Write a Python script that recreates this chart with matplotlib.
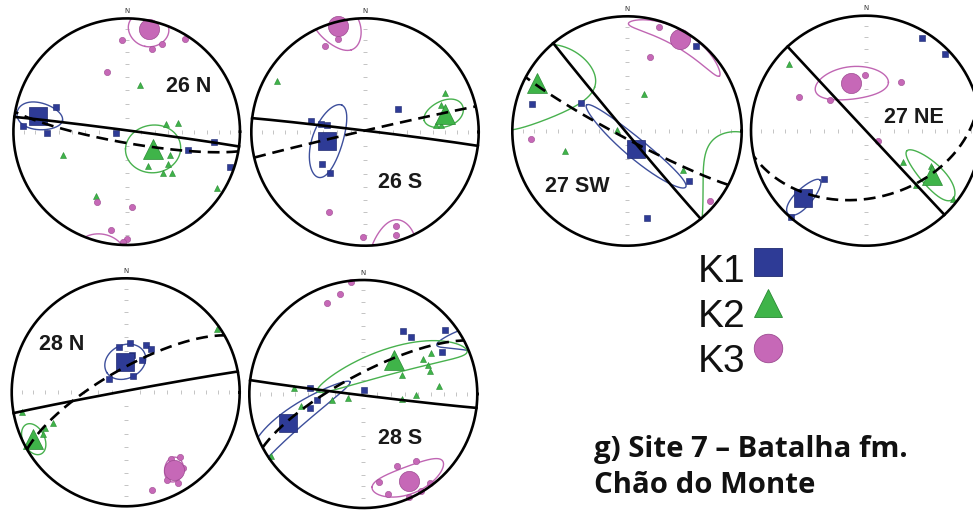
import numpy as np
import matplotlib
matplotlib.use("Agg")
import matplotlib.pyplot as plt

# AMS principal axes per site, (trend, plunge) in degrees, lower hemisphere
sites = ["26 N", "26 S", "27 SW", "27 NE", "28 N", "28 S"]

k1_26n = [(289, 34), (273, 9), (269, 30), (265, 82), (107, 43), (97, 23), (109, 4)]
k2_26n = [(16, 55), (79, 61), (80, 52), (118, 54), (148, 61), (128, 52), (139, 50),
          (132, 45), (250, 40), (205, 37), (122, 7)]
k3_26n = [(357, 20), (17, 25), (22, 18), (32, 4), (342, 44), (203, 33), (176, 34),
          (189, 13), (180, 6), (182, 3)]
means_26n = [(280, 22), (123, 67), (12, 8)]
ell_26n = [(20, 8, 0), (20, 17, 33), (16, 11, 0)]
planes_26n = [(277.5, 89), (100, 82)]

k1_26s = [(282, 50), (281, 58), (280, 62), (234, 51), (221, 51), (55, 61)]
k2_26s = [(64, 23), (70, 30), (84, 37), (85, 33), (300, 12)]
k3_26s = [(335, 18), (344, 16), (204, 24), (181, 8), (162, 14), (163, 6)]
means_26s = [(257, 62), (77, 29), (346, 4)]
ell_26s = [(27, 11, 57), (17, 8, 5), (24, 11, 10)]
planes_26s = [(277, 89), (257, 89)]

k1_27sw = [(286, 15), (301, 51), (39, 5), (129, 31), (167, 23)]
k2_27sw = [(25, 61), (276, 83), (252, 43), (125, 40)]
k3_27sw = [(17, 6), (17, 33), (265, 17), (130, 6)]
means_27sw = [(153, 76), (298, 12), (30, 8)]
ell_27sw = [(47, 7, 23), (44, 24, 23), (29, 8, 90)]
planes_27sw = [(140, 89), (118, 85)]

k1_27ne = [(31, 7), (46, 5), (221, 44), (221, 1)]
k2_27ne = [(311, 12), (130, 55), (137, 36), (128, 4), (119, 36), (125, 26)]
k3_27ne = [(359, 50), (36, 47), (297, 35), (310, 56), (129, 79)]
means_27ne = [(223, 21), (124, 31), (343, 54)]
ell_27ne = [(20, 5, 0), (27, 7, -9), (25, 12, 78)]
planes_27ne = [(137, 89.9), (77, 41)]

k1_28n = [(351, 57), (5, 54), (23, 53), (30, 54), (26, 64), (25, 77), (308, 75), (9, 63)]
k2_28n = [(259, 8), (246, 24), (247, 31), (243, 20), (55, 3)]
k3_28n = [(165, 12), (146, 30), (140, 27), (143, 18), (155, 16), (150, 9)]
means_28n = [(359, 68), (243, 10), (148, 21)]
ell_28n = [(15, 12, -61), (10, 9, 0), (10, 6, -16)]
planes_28n = [(259.5, 89), (240, 74)]

k1_28s = [(32, 35), (40, 35), (52, 10), (62, 23), (276, 51), (263, 56), (255, 50), (8, 87)]
k2_28s = [(275, 39), (259, 44), (260, 67), (254, 79), (236, 3), (64, 59), (98, 62),
          (91, 52), (84, 34), (60, 39), (66, 38), (71, 38), (59, 31)]
k3_28s = [(155, 31), (142, 26), (170, 23), (143, 3), (149, 1), (156, 1), (166, 11),
          (338, 15), (347, 11), (354, 1)]
means_28s = [(249, 30), (42, 57), (152, 15)]
ell_28s = [(55, 7, 14), (59, 9, -30), (22, 12, 76)]
planes_28s = [(97, 89), (242, 76)]

nets = [
    (k1_26n, k2_26n, k3_26n, means_26n, ell_26n, planes_26n),
    (k1_26s, k2_26s, k3_26s, means_26s, ell_26s, planes_26s),
    (k1_27sw, k2_27sw, k3_27sw, means_27sw, ell_27sw, planes_27sw),
    (k1_27ne, k2_27ne, k3_27ne, means_27ne, ell_27ne, planes_27ne),
    (k1_28n, k2_28n, k3_28n, means_28n, ell_28n, planes_28n),
    (k1_28s, k2_28s, k3_28s, means_28s, ell_28s, planes_28s),
]

# net placement on the page (pixels) and label spots (net units)
W, H = 973, 511
centers = [(126.7, 131.7), (365, 132), (627, 131), (866, 130.7), (125.7, 392.3), (363.3, 394)]
radii = [113.3, 113.7, 114.7, 115, 114, 114]
label_xy = [(0.55, 0.40), (0.31, -0.44), (-0.43, -0.485), (0.42, 0.116), (-0.56, 0.415), (0.32, -0.39)]

styles = [
    dict(marker="s", color="#2e3b96", mec="#1f2a70", ell="#3d4f9c", small=4.2, big=13.5),
    dict(marker="^", color="#3fb449", mec="#2a8a34", ell="#48b14e", small=4.8, big=14.5),
    dict(marker="o", color="#c668b7", mec="#9c4a90", ell="#c066b3", small=4.5, big=14.5),
]


def unit(trend, plunge):
    t, p = np.radians(trend), np.radians(plunge)
    return np.array([np.cos(p) * np.cos(t), np.cos(p) * np.sin(t), np.sin(p)])


def to_xy(v):
    # Schmidt (equal-area) lower hemisphere, axial data
    n, e, d = v
    s = np.where(d < 0, -1.0, 1.0)
    n, e, d = n * s, e * s, d * s
    k = 1 / np.sqrt(1 + d)
    return e * k, n * k


def great_circle(strike, dip):
    t = np.linspace(0, np.pi, 241)
    a, b = unit(strike, 0), unit(strike + 90, dip)
    return to_xy(np.outer(a, np.cos(t)) + np.outer(b, np.sin(t)))


def cone(trend, plunge, major, minor, phi):
    T, P, f = np.radians(trend), np.radians(plunge), np.radians(phi)
    m = unit(trend, plunge)
    down = np.array([-np.sin(P) * np.cos(T), -np.sin(P) * np.sin(T), np.cos(P)])
    side = np.array([-np.sin(T), np.cos(T), 0.0])
    w = np.cos(f) * down + np.sin(f) * side
    q = -np.sin(f) * down + np.cos(f) * side
    t = np.linspace(0, 2 * np.pi, 721)
    v = (m[:, None] + np.tan(np.radians(major)) * np.cos(t) * w[:, None]
         + np.tan(np.radians(minor)) * np.sin(t) * q[:, None])
    v = v / np.linalg.norm(v, axis=0)
    x, y = to_xy(v)
    up = v[2] < 0
    cut = np.where(up[1:] != up[:-1])[0] + 1
    return np.insert(x, cut, np.nan), np.insert(y, cut, np.nan)


tick_r = np.sqrt(2) * np.sin(np.radians((90 - np.arange(80, 0, -10)) / 2))

fig = plt.figure(figsize=(W / 100, H / 100), dpi=100)
fig.patch.set_facecolor("white")

for (k1, k2, k3, means, ells, planes), name, (cx, cy), R, (lx, ly) in zip(
        nets, sites, centers, radii, label_xy):
    pad = 1.15
    ax = fig.add_axes([(cx - pad * R) / W, 1 - (cy + pad * R) / H, 2 * pad * R / W, 2 * pad * R / H])
    ax.set_xlim(-pad, pad)
    ax.set_ylim(-pad, pad)
    ax.set_aspect("equal")
    ax.axis("off")

    a = np.linspace(0, 2 * np.pi, 400)
    ax.plot(np.cos(a), np.sin(a), color="black", lw=1.9, zorder=6)
    tr = np.concatenate([tick_r, -tick_r])
    ax.plot(np.zeros_like(tr), tr, ls="none", marker="_", ms=3, mew=0.7, color="#c4c4c4", zorder=1)
    ax.plot(tr, np.zeros_like(tr), ls="none", marker="|", ms=3, mew=0.7, color="#c4c4c4", zorder=1)
    ax.text(0, 1.065, "N", ha="center", va="center", fontsize=5, color="#333333")

    for (strike, dip), ls in zip(planes, ["-", "--"]):
        x, y = great_circle(strike, dip)
        line, = ax.plot(x, y, color="black", lw=1.9, ls=ls, zorder=5)
        if ls == "--":
            line.set_dashes((4.5, 2.6))

    for pts, (mt, mp), (ma, mi, phi), st in zip([k1, k2, k3], means, ells, styles):
        x, y = cone(mt, mp, ma, mi, phi)
        ax.plot(x, y, color=st["ell"], lw=1.0, zorder=2)
        px, py = to_xy(np.array([unit(t, p) for t, p in pts]).T)
        ax.plot(px, py, ls="none", marker=st["marker"], ms=st["small"], color=st["color"],
                mec=st["mec"], mew=0.4, zorder=3)
        bx, by = to_xy(unit(mt, mp))
        ax.plot([bx], [by], ls="none", marker=st["marker"], ms=st["big"], color=st["color"],
                mec=st["mec"], mew=0.5, zorder=4)

    ax.text(lx, ly, name, ha="center", va="center", fontsize=15.5, fontweight="bold",
            family="Liberation Sans", color="#1a1a1a", zorder=7)

# legend and caption
lax = fig.add_axes([0, 0, 1, 1])
lax.set_xlim(0, W)
lax.set_ylim(H, 0)
lax.axis("off")
lax.patch.set_alpha(0)

for i, (lab, st) in enumerate(zip(["K1", "K2", "K3"], styles)):
    base = 281.7 + 45 * i
    lax.text(698, base, lab, ha="left", va="baseline", fontsize=28, family="Liberation Sans",
             color="#111111")
    lax.plot([768], [262.5 + 40.5 * i + (5 if i == 2 else 0)], ls="none", marker=st["marker"],
             ms=20.5, color=st["color"], mec=st["mec"], mew=0.6)

lax.text(594, 456.5, "g) Site 7 \u2013 Batalha fm.", ha="left", va="baseline", fontsize=21.2,
         fontweight="bold", family="Open Sans", color="#111111")
lax.text(594, 493.3, "Ch\u00e3o do Monte", ha="left", va="baseline", fontsize=21.2,
         fontweight="bold", family="Open Sans", color="#111111")

fig.savefig("out.png", dpi=100, facecolor="white")
